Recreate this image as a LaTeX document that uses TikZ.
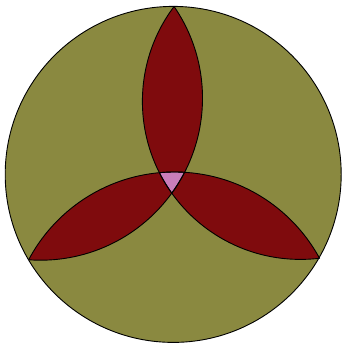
\documentclass[tikz,border=0pt]{standalone}
\definecolor{olivebg}{RGB}{138,137,64}
\definecolor{petalred}{RGB}{127,11,13}
\definecolor{middlepink}{RGB}{202,126,186}
\tikzset{
  petal/.style={fill=petalred},
  middle/.style={fill=middlepink},
  rim/.style={draw=black, line width=0.9pt}
}
\begin{document}
\begin{tikzpicture}[x=1pt,y=-1pt]
            \useasboundingbox (0,0) rectangle (342,344);
            % Centres
            \coordinate (O) at (173.2,174.4);
            \coordinate (A) at (40.5,98.2);
            \coordinate (B) at (300.4,101.4);
            \coordinate (C) at (174.5,337);

            % Disc
            \fill[olivebg] (O) circle (168pt);

            % Petals
            \begin{scope}
                \clip (A) circle (162pt);
                \fill[petal] (B) circle (158pt);
                \fill[petal] (C) circle (165pt);
            \end{scope}
            \begin{scope}
                \clip (B) circle (158pt);
                \fill[petal] (C) circle (165pt);
            \end{scope}
            \begin{scope}
                \clip (A) circle (162pt);
                \clip (B) circle (158pt);
                \fill[middle] (C) circle (165pt);
            \end{scope}

            % Outlines
            \begin{scope}
                \clip (A) circle (162pt);
                \draw[rim] (B) circle (158pt);
                \draw[rim] (C) circle (165pt);
            \end{scope}
            \begin{scope}
                \clip (B) circle (158pt);
                \draw[rim] (A) circle (162pt);
                \draw[rim] (C) circle (165pt);
            \end{scope}
            \begin{scope}
                \clip (C) circle (165pt);
                \draw[rim] (A) circle (162pt);
                \draw[rim] (B) circle (158pt);
            \end{scope}
            \draw[rim] (O) circle (168pt);
        \end{tikzpicture}
\end{document}
